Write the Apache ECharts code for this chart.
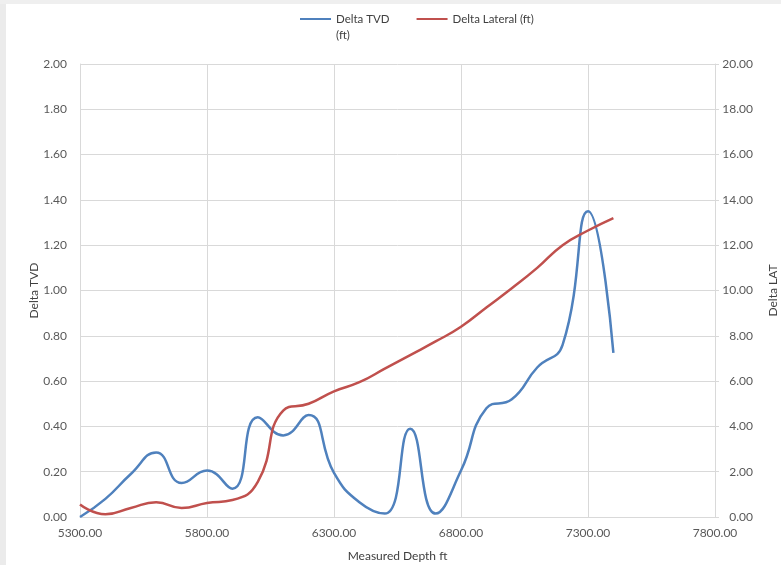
<!DOCTYPE html>
<html>
<head>
<meta charset="utf-8">
<script src="https://cdn.jsdelivr.net/npm/echarts@6/dist/echarts.min.js"></script>
<style>
  html, body { margin: 0; padding: 0; background: #ffffff; }
  #chart { width: 781px; height: 565px; }
</style>
</head>
<body>
<div id="chart"></div>
<script>
// Measured depth of each survey station (ft)
const depths = [5300, 5400, 5500, 5600, 5700, 5800, 5900, 6000, 6100, 6200, 6300,
                6400, 6500, 6600, 6700, 6800, 6900, 7000, 7100, 7200, 7300, 7400];
// Delta TVD (ft), left axis
const deltaTvd = [0.00, 0.08, 0.19, 0.285, 0.15, 0.205, 0.125, 0.44, 0.36, 0.45, 0.195,
                  0.065, 0.015, 0.39, 0.015, 0.205, 0.48, 0.52, 0.66, 0.76, 1.35, 0.725];
// Delta Lateral (ft), right axis
const deltaLat = [0.55, 0.12, 0.40, 0.65, 0.40, 0.62, 0.75, 1.55, 4.70, 5.00, 5.55,
                  5.95, 6.55, 7.15, 7.75, 8.40, 9.25, 10.10, 11.00, 12.00, 12.65, 13.20];

const seriesNames = ['Delta TVD\n(ft)', 'Delta Lateral (ft)'];
const xAxisName = 'Measured Depth ft';
const leftAxisName = 'Delta TVD';
const rightAxisName = 'Delta LAT';

const FONT = 'Lato';
const LABEL_COLOR = '#595959';
const GRID_COLOR = '#d9d9d9';

const pairs = (ys) => depths.map((d, i) => [d, ys[i]]);
const fmt2 = (v) => Number(v).toFixed(2);

const chart = echarts.init(document.getElementById('chart'), null, { renderer: 'canvas' });

chart.setOption({
  backgroundColor: '#ffffff',
  animation: false,
  textStyle: { fontFamily: FONT },
  graphic: [
    { type: 'rect', left: 0, top: 0, shape: { width: 6, height: 565 }, style: { fill: '#ebebeb' }, silent: true },
    { type: 'rect', left: 0, top: 0, shape: { width: 781, height: 4 }, style: { fill: '#efefef' }, silent: true }
  ],
  legend: {
    left: 300,
    top: -5,
    padding: 0,
    itemWidth: 31,
    itemHeight: 14,
    itemGap: 27,
    icon: 'path://M0,6.5 L31,6.5 L31,8.5 L0,8.5 Z',
    textStyle: { fontFamily: FONT, fontSize: 11.5, color: '#404040', lineHeight: 16 },
    // a blank leading line keeps the first text line level with the legend stroke
    formatter: (name) => (name.indexOf('\n') >= 0 ? ' \n' + name : name),
    data: seriesNames
  },
  grid: { left: 80, right: 66, top: 64, bottom: 48, containLabel: false, outerBoundsMode: 'none' },
  xAxis: {
    type: 'value',
    min: 5300,
    max: 7800,
    interval: 500,
    name: xAxisName,
    nameLocation: 'middle',
    nameGap: 33,
    nameTextStyle: { fontFamily: FONT, fontSize: 12, color: '#404040' },
    axisLine: { show: true, lineStyle: { color: GRID_COLOR, width: 1 } },
    axisTick: { show: false },
    axisLabel: { fontFamily: FONT, fontSize: 12, color: LABEL_COLOR, margin: 10, formatter: fmt2 },
    splitLine: { show: true, lineStyle: { color: GRID_COLOR, width: 1 } }
  },
  yAxis: [
    {
      type: 'value',
      position: 'left',
      min: 0,
      max: 2,
      interval: 0.2,
      name: leftAxisName,
      nameLocation: 'middle',
      nameGap: 40,
      nameMoveOverlap: false,
      nameTextStyle: { fontFamily: FONT, fontSize: 12, color: '#404040' },
      axisLine: { show: true, lineStyle: { color: GRID_COLOR, width: 1 } },
      axisTick: { show: false },
      axisLabel: { fontFamily: FONT, fontSize: 12, color: LABEL_COLOR, margin: 13, formatter: fmt2 },
      splitLine: { show: true, lineStyle: { color: GRID_COLOR, width: 1 } }
    },
    {
      type: 'value',
      position: 'right',
      min: 0,
      max: 20,
      interval: 2,
      name: rightAxisName,
      nameLocation: 'middle',
      nameGap: 52,
      nameMoveOverlap: false,
      nameTextStyle: { fontFamily: FONT, fontSize: 12, color: '#404040' },
      axisLine: { show: true, lineStyle: { color: GRID_COLOR, width: 1 } },
      axisTick: { show: true, inside: false, length: 4, lineStyle: { color: GRID_COLOR } },
      axisLabel: { fontFamily: FONT, fontSize: 12, color: LABEL_COLOR, margin: 38, align: 'right', formatter: fmt2 },
      splitLine: { show: false }
    }
  ],
  series: [
    {
      name: seriesNames[0],
      type: 'line',
      yAxisIndex: 0,
      data: pairs(deltaTvd),
      smooth: 0.5,
      showSymbol: false,
      symbol: 'none',
      lineStyle: { color: '#4f81bd', width: 2.5 },
      itemStyle: { color: '#4f81bd' }
    },
    {
      name: seriesNames[1],
      type: 'line',
      yAxisIndex: 1,
      data: pairs(deltaLat),
      smooth: 0.5,
      showSymbol: false,
      symbol: 'none',
      lineStyle: { color: '#c0504d', width: 2.5 },
      itemStyle: { color: '#c0504d' }
    }
  ]
});
</script>
</body>
</html>
